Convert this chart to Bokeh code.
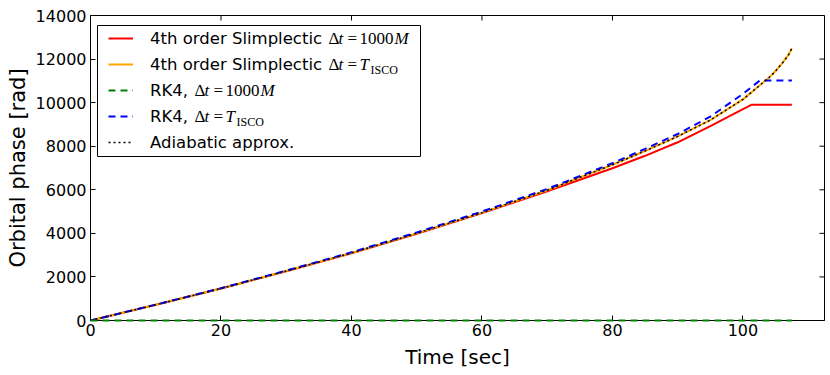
import math
from bokeh.plotting import figure
from bokeh.models import (LinearAxis, Legend, LegendItem, Label, BoxAnnotation,
                          FixedTicker, Range1d)
from bokeh.embed import file_html
from bokeh.resources import INLINE

# ---- data ----
t_slim_1000M = [0, 10, 20, 30, 40, 50, 60, 70, 80, 85, 90, 95, 100, 101.3, 107.5]
phi_slim_1000M = [0, 720, 1470, 2260, 3090, 3980, 4930, 5930, 6990, 7560, 8180, 8920, 9700, 9900, 9900]

t_slim_tisco = [0, 10, 20, 30, 40, 50, 60, 70, 80, 85, 90, 95, 100, 102, 104, 105, 106, 107, 107.5]
phi_slim_tisco = [0, 720, 1470, 2270, 3100, 4000, 4950, 5980, 7150, 7780, 8450, 9200, 10150, 10650, 11150, 11450, 11800, 12200, 12500]

t_rk4_1000M = [0, 107.5]
phi_rk4_1000M = [0, 0]

t_rk4_tisco = [0, 10, 20, 30, 40, 50, 60, 70, 80, 85, 90, 95, 100, 102.6, 107.5]
phi_rk4_tisco = [0, 725, 1480, 2290, 3130, 4040, 5000, 6040, 7220, 7880, 8560, 9360, 10400, 11020, 11020]

t_adiabatic = [0, 10, 20, 30, 40, 50, 60, 70, 80, 85, 90, 95, 100, 102, 104, 105, 106, 107, 107.5]
phi_adiabatic = [0, 720, 1470, 2270, 3100, 4000, 4950, 5980, 7150, 7780, 8450, 9200, 10150, 10650, 11150, 11450, 11800, 12200, 12500]

x_ticks = [0, 20, 40, 60, 80, 100]
y_ticks = [0, 2000, 4000, 6000, 8000, 10000, 12000, 14000]
x_lim = (0, 112.5)
y_lim = (0, 14000)
x_label = "Time [sec]"
y_label = "Orbital phase [rad]"

legend_texts = ["4th order Slimplectic", "4th order Slimplectic", "RK4,", "RK4,", "Adiabatic approx."]

SANS = "DejaVu Sans"
SERIF = "Liberation Serif"

p = figure(width=826, height=372, output_backend="svg", toolbar_location=None,
           x_range=Range1d(*x_lim), y_range=Range1d(*y_lim),
           min_border_left=90, min_border_right=2, min_border_top=15, min_border_bottom=52,
           x_axis_location=None, y_axis_location=None)
p.grid.visible = False
p.outline_line_color = "black"
p.outline_line_width = 1
p.background_fill_color = "white"
p.border_fill_color = "white"

def style_axis(ax, ticks):
    ax.ticker = FixedTicker(ticks=ticks)
    ax.axis_line_color = "black"
    ax.major_tick_in = 5
    ax.major_tick_out = 0
    ax.major_tick_line_color = "black"
    ax.minor_tick_line_color = None
    ax.major_label_text_font = SANS
    ax.major_label_text_font_size = "16px"
    ax.major_label_text_color = "black"
    ax.axis_label_text_font = SANS
    ax.axis_label_text_font_style = "normal"
    ax.axis_label_text_color = "black"

xb = LinearAxis(axis_label=x_label)
yl = LinearAxis(axis_label=y_label)
style_axis(xb, x_ticks)
style_axis(yl, y_ticks)
xb.major_label_standoff = 3
xb.axis_label_standoff = 6
xb.axis_label_text_font_size = "20px"
yl.major_label_standoff = 4
yl.axis_label_standoff = 3
yl.axis_label_text_font_size = "21px"
p.add_layout(xb, "below")
p.add_layout(yl, "left")

# mirrored inward ticks on the top and right spines (clipped to the frame)
p.scatter(x=x_ticks, y=[y_lim[1]] * len(x_ticks), marker="dash", angle=math.pi / 2,
          size=10, line_color="black", line_width=1)
p.scatter(x=[x_lim[1]] * len(y_ticks), y=y_ticks, marker="dash",
          size=10, line_color="black", line_width=1)

r1 = p.line(t_slim_1000M, phi_slim_1000M, line_color="#ff0000", line_width=2)
r2 = p.line(t_slim_tisco, phi_slim_tisco, line_color="#ffa500", line_width=2)
r3 = p.line(t_rk4_1000M, phi_rk4_1000M, line_color="#008000", line_width=2, line_dash="7 5")
r3.level = "overlay"
r4 = p.line(t_rk4_tisco, phi_rk4_tisco, line_color="#0000ff", line_width=2, line_dash="7 5")
r5 = p.line(t_adiabatic, phi_adiabatic, line_color="black", line_width=1.5, line_dash="2 3")

# legend frame (screen units relative to plot frame, y measured from frame bottom)
box = BoxAnnotation(left=7, right=330, top=295, bottom=164,
                    left_units="screen", right_units="screen",
                    top_units="screen", bottom_units="screen",
                    fill_color="white", fill_alpha=1.0,
                    line_color="black", line_width=1, line_alpha=1.0)
p.add_layout(box)

legend = Legend(items=[LegendItem(label=txt, renderers=[r]) for txt, r in
                       zip(legend_texts, [r1, r2, r3, r4, r5])],
                location=(18, 165), margin=0, padding=0, spacing=0,
                glyph_width=25, glyph_height=26, label_height=26, label_standoff=17,
                label_text_font=SANS, label_text_font_size="16.5px",
                label_text_color="black",
                background_fill_alpha=0, border_line_alpha=0)
p.add_layout(legend)

# math parts of legend labels (drawn next to the legend texts)
rows_y = [282, 256, 230, 204]
starts = [238, 238, 104, 104]
for i, (y0, x0) in enumerate(zip(rows_y, starts)):
    pieces = [("\u0394", 0, "normal", "17px", 0), ("t", 10, "italic", "17px", 0),
              ("=", 19, "normal", "17px", 0)]
    if i % 2 == 0:
        pieces += [("1000", 31, "normal", "17px", 0), ("M", 66, "italic", "17px", 0)]
    else:
        pieces += [("T", 31, "italic", "17px", 0), ("ISCO", 42, "normal", "12px", -5)]
    for txt, dx, style, size, dy in pieces:
        p.add_layout(Label(x=x0 + dx, y=y0 + dy, x_units="screen", y_units="screen",
                           text=txt, text_font=SERIF, text_font_style=style,
                           text_font_size=size, text_baseline="middle",
                           text_color="black"))

open("out.html", "w").write(file_html(p, INLINE))
